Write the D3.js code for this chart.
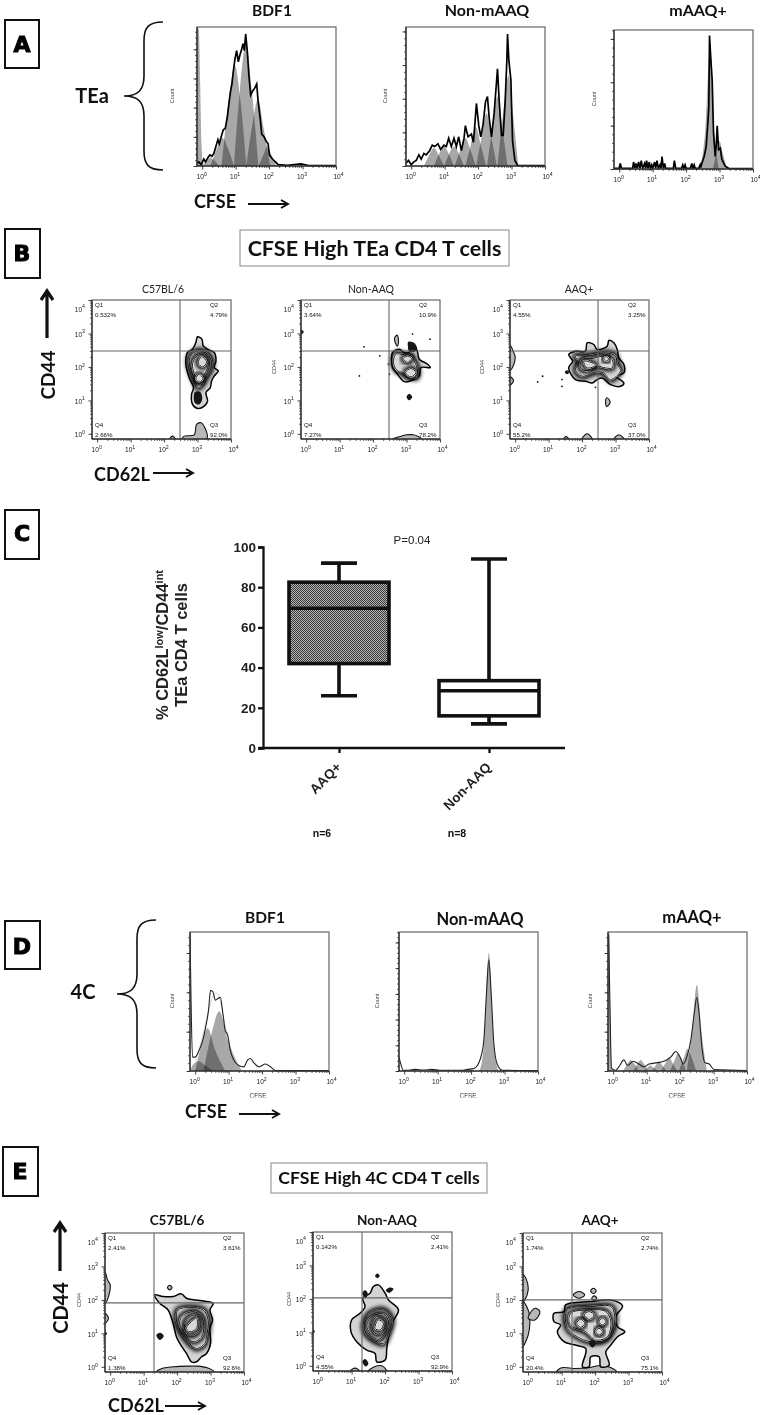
<!DOCTYPE html>
<html>
<head>
<meta charset="utf-8">
<script src="https://cdnjs.cloudflare.com/ajax/libs/d3/7.8.5/d3.min.js"></script>
<style>
  html, body { margin: 0; padding: 0; background: #fff; }
  svg { display: block; filter: blur(0.5px); }
  .cal { font-family: Lato, "Open Sans", sans-serif; }
  .ari { font-family: "Liberation Sans", Arial, sans-serif; }
  .peak { fill: #a8a8a8; mix-blend-mode: multiply; }
</style>
</head>
<body>
<svg id="fig" width="760" height="1415"></svg>
<script>
// all flow values are in log10 decades, counts are % of the plot height

// panel A histograms
const aBdf1Line = [[-.155,2],[-.10,3],[-.03,1],[.05,5],[.10,3],[.17,6],[.23,8],[.29,7],[.35,9],[.41,14],[.47,19],[.51,16],[.57,21],[.63,26],[.69,27],[.75,35],[.81,47],[.85,54],[.89,59],[.93,68],[.98,77],[1.03,83],[1.08,75],[1.13,80],[1.17,83],[1.22,88],[1.26,83],[1.30,95],[1.35,82],[1.40,64],[1.45,51],[1.51,54],[1.57,56],[1.63,59],[1.67,47],[1.73,35],[1.78,23],[1.85,21],[1.91,18],[1.97,16],[2.01,8],[2.10,5],[2.19,3],[2.27,1],[2.55,.5],[2.95,1.5],[3.15,.5],[4,.3]];
const aBdf1Peaks = [
  [[-.155,100],[-.1,98],[-.06,60],[-.02,15],[.03,0]],
  [[0,0],[.13,4],[.25,6],[.37,4],[.5,0]],
  [[.25,0],[.43,12],[.62,20],[.78,12],[.95,0]],
  [[.58,0],[.78,45],[.98,72],[1.14,48],[1.32,0]],
  [[.95,0],[1.13,55],[1.31,88],[1.48,55],[1.68,0]],
  [[1.32,0],[1.5,30],[1.67,48],[1.83,28],[2.03,0]],
  [[1.68,0],[1.83,8],[1.95,14],[2.07,8],[2.22,0]]
];
const aNonLine = [[-.155,2],[-.08,4],[0,1],[.08,3],[.15,4],[.23,8],[.3,5],[.38,9],[.45,8],[.55,11],[.63,15],[.7,14],[.8,16],[.88,12],[.98,15],[1.05,14],[1.12,20],[1.2,14],[1.28,20],[1.35,14],[1.42,21],[1.5,11],[1.58,20],[1.62,29],[1.7,21],[1.8,23],[1.86,17],[1.9,29],[1.95,45],[2.02,29],[2.08,21],[2.15,30],[2.22,46],[2.28,50],[2.33,35],[2.4,21],[2.48,38],[2.54,57],[2.58,70],[2.63,47],[2.7,22],[2.75,22],[2.81,47],[2.86,76],[2.88,95],[2.92,76],[2.98,62],[3.03,18],[3.1,4],[3.18,.5],[4,.3]];
const aNonPeaks = [
  [[.38,0],[.52,7],[.68,13],[.84,7],[.98,0]],
  [[.68,0],[.82,8],[.98,14],[1.14,8],[1.28,0]],
  [[.98,0],[1.12,8],[1.28,14],[1.44,8],[1.58,0]],
  [[1.3,0],[1.46,11],[1.62,20],[1.78,11],[1.93,0]],
  [[1.62,0],[1.78,15],[1.93,28],[2.08,15],[2.24,0]],
  [[1.94,0],[2.1,20],[2.25,38],[2.4,20],[2.56,0]],
  [[2.27,0],[2.42,26],[2.58,50],[2.73,26],[2.88,0]],
  [[2.58,0],[2.74,36],[2.91,65],[3.05,36],[3.2,0]]
];
const aMaaqLine = [[-.155,.5],[0,.5],[.03,4],[.07,.5],[.4,.5],[.43,5],[.47,.5],[.5,4],[.54,.5],[.58,5],[.62,.5],[.66,6],[.7,.5],[.76,4],[.79,.5],[.82,6],[.86,.5],[.9,5],[.93,.5],[.97,3],[1,.5],[1.06,5],[1.09,.5],[1.13,6],[1.17,.5],[1.22,3],[1.25,.5],[1.28,9],[1.32,.5],[1.36,4],[1.39,.5],[1.62,.5],[1.65,6],[1.69,.5],[1.86,.5],[1.9,3],[1.93,.5],[1.97,3],[2,.5],[2.13,.5],[2.17,4],[2.2,.5],[2.24,3],[2.27,.5],[2.38,.5],[2.42,3],[2.44,1],[2.47,4],[2.54,9],[2.6,16],[2.65,33],[2.68,45],[2.7,96],[2.74,79],[2.78,64],[2.82,26],[2.87,9],[2.9,16],[2.93,31],[2.97,14],[3.02,15],[3.07,7],[3.17,2],[3.27,.5],[4,.3]];
const aMaaqPeaks = [
  [[2.42,0],[2.58,30],[2.71,85],[2.84,28],[2.98,0]],
  [[2.8,0],[2.9,11],[3,20],[3.1,11],[3.22,0]]
];

// panel D histograms
const dBdf1Line = [[-.155,99],[-.13,60],[-.08,10],[0,10],[.1,14],[.2,20],[.3,30],[.4,44],[.46,58],[.53,57],[.6,51],[.67,52],[.75,53],[.83,41],[.9,29],[.97,26],[1.05,15],[1.15,8],[1.3,4],[1.45,3],[1.57,8],[1.65,9],[1.75,6],[1.9,3],[2.1,5],[2.25,3],[2.4,.3],[4,.3]];
const dBdf1Peaks = [
  [[-.155,0],[-.05,5],[.1,7],[.3,4],[.55,0]],
  [[0,0],[.2,20],[.37,31],[.6,15],[.9,0]],
  [[.25,0],[.5,28],[.72,43],[.98,22],[1.4,0]]
];
const dBdf1Model = [[0,5],[.2,22],[.4,45],[.58,58],[.72,55],[.85,38],[1.05,15],[1.3,0]];
const dNonLine = [[-.155,10],[-.1,5],[-.03,.5],[.13,.5],[.33,1.2],[.58,.7],[.83,1.2],[1.03,.5],[1.7,.5],[1.9,1.2],[2.07,1.7],[2.19,4],[2.28,9],[2.38,22],[2.46,56],[2.53,80],[2.6,56],[2.68,20],[2.78,5],[2.93,.5],[4,.3]];
const dNonPeaks = [
  [[.1,0],[.2,.8],[.33,1.5],[.45,.8],[.6,0]],
  [[.7,0],[.8,.8],[.95,1.5],[1.05,.8],[1.15,0]],
  [[1.75,0],[1.85,.8],[1.95,1.5],[2.05,.8],[2.15,0]],
  [[2.25,0],[2.38,18],[2.53,85],[2.68,18],[2.82,0]]
];
const dMaaqLine = [[-.135,98],[-.1,51],[-.05,2],[.07,.5],[.17,3],[.32,8],[.43,4],[.6,7],[.77,5],[.92,3],[1.07,5],[1.32,6],[1.52,7],[1.72,10],[1.87,14],[2,10],[2.1,5],[2.2,10],[2.32,22],[2.42,41],[2.5,53],[2.57,41],[2.64,20],[2.74,6],[2.87,5],[3.02,1],[4,.3]];
const dMaaqPeaks = [
  [[-.155,100],[-.12,100],[-.09,50],[-.05,5],[-.02,0]],
  [[.3,0],[.42,5],[.52,8],[.64,5],[.76,0]],
  [[.6,0],[.72,5],[.82,8],[.92,5],[1.04,0]],
  [[.9,0],[1.02,2.5],[1.1,4],[1.2,2.5],[1.32,0]],
  [[1.15,0],[1.27,4],[1.37,7],[1.47,4],[1.6,0]],
  [[1.43,0],[1.57,6],[1.67,10],[1.77,6],[1.92,0]],
  [[1.7,0],[1.84,8],[1.94,13],[2.05,8],[2.18,0]],
  [[1.96,0],[2.12,10],[2.22,16],[2.34,10],[2.48,0]],
  [[2.2,0],[2.36,28],[2.5,62],[2.64,28],[2.8,0]]
];

// panel B contours, outer ring first
const bC57Rings = [
  [[3.00,2.90],[3.13,2.83],[3.17,2.63],[3.35,2.50],[3.50,2.43],[3.55,2.18],[3.50,1.98],[3.62,1.88],[3.50,1.73],[3.42,1.58],[3.38,1.38],[3.25,1.23],[3.30,.98],[3.20,.83],[3.00,.76],[2.85,.88],[2.82,1.18],[2.88,1.38],[2.75,1.68],[2.65,2.08],[2.70,2.43],[2.85,2.53],[2.95,2.73]],
  [[2.85,2.40],[3.05,2.48],[3.30,2.38],[3.42,2.15],[3.38,1.90],[3.25,1.70],[3.15,1.50],[3.02,1.38],[2.92,1.60],[2.80,1.90],[2.75,2.20]],
  [[2.95,2.30],[3.10,2.38],[3.28,2.25],[3.32,2.05],[3.22,1.80],[3.12,1.62],[3.00,1.55],[2.90,1.80],[2.85,2.08]],
  [[3.12,2.30],[3.27,2.15],[3.15,2.00],[3.02,2.12]],
  [[3.05,1.78],[3.16,1.65],[3.05,1.55],[2.95,1.65]]
];
const bC57Edge = [
  [[2.55,-.15],[2.6,-.07],[2.9,-.03],[2.97,.28],[3.1,.33],[3.22,.18],[3.28,-.13]],
  [[2.17,-.155],[2.25,-.07],[2.33,-.155]]
];
const bC57Blobs = [[[2.92,1.25],[3.08,1.25],[3.14,1.05],[3.05,.88],[2.92,.92]]];
const bC57Dots = [];

const bNonRings = [
  [[2.58,2.43],[2.78,2.53],[2.93,2.43],[3.08,2.43],[3.08,2.63],[3.23,2.66],[3.33,2.43],[3.38,2.23],[3.63,2.08],[3.71,1.98],[3.43,1.98],[3.38,1.73],[3.18,1.60],[2.93,1.56],[2.73,1.78],[2.58,1.98],[2.55,2.23]],
  [[2.68,2.38],[2.93,2.36],[3.13,2.33],[3.23,2.18],[3.33,1.88],[3.28,1.68],[3.08,1.73],[2.88,1.83],[2.71,1.90],[2.61,2.13]],
  [[2.90,2.25],[3.03,2.32],[3.15,2.25],[3.03,2.14]],
  [[2.97,1.83],[3.13,1.95],[3.28,1.83],[3.13,1.70]]
];
const bNonEdge = [
  [[2.58,-.155],[2.8,-.08],[3,-.03],[3.2,-.03],[3.35,-.08],[3.45,-.155]],
  [[2.64,2.85],[2.72,2.95],[2.76,2.75],[2.72,2.62]]
];
const bNonBlobs = [
  [[3.05,2.75],[3.25,2.7],[3.3,2.5],[3.1,2.45]],
  [[3.0,1.1],[3.08,1.2],[3.17,1.1],[3.08,1.0]],
  [[-.155,3.12],[-.07,3.05],[-.155,2.97]]
];
const bNonDots = [[1.73,2.6],[2.20,2.33],[1.59,1.73],[2.46,2.08],[2.49,1.78],[3.18,2.98],[3.70,2.83]];

const bAaqRings = [
  [[1.60,2.37],[1.80,2.47],[2.10,2.47],[2.15,2.72],[2.35,2.67],[2.45,2.52],[2.75,2.62],[2.80,2.79],[2.95,2.72],[3.05,2.52],[3.10,2.27],[3.25,2.07],[3.25,1.82],[3.02,1.72],[3.25,1.52],[3.15,1.42],[2.85,1.47],[2.60,1.67],[2.45,1.62],[2.30,1.52],[2.10,1.57],[1.80,1.62],[1.60,1.97],[1.72,2.17]],
  [[1.80,2.32],[2.10,2.32],[2.40,2.37],[2.70,2.42],[3.00,2.32],[3.05,2.07],[3.15,1.89],[2.85,1.62],[2.65,1.82],[2.40,1.85],[2.00,1.72],[1.80,1.92],[1.90,2.12]],
  [[2.00,2.22],[2.30,2.25],[2.65,2.32],[2.90,2.22],[2.90,1.97],[2.70,1.97],[2.45,2.02],[2.15,1.89],[1.95,1.97]],
  [[2.05,2.17],[2.30,2.12],[2.40,2.05],[2.15,1.97]],
  [[2.65,2.24],[2.72,2.31],[2.79,2.24],[2.72,2.17]]
];
const bAaqEdge = [
  [[-.155,2.65],[-.05,2.45],[0,2.3],[-.05,2.05],[-.155,1.9]],
  [[-.155,1.7],[-.05,1.6],[-.155,1.45]],
  [[1.45,-.155],[1.52,-.08],[1.6,-.155]],
  [[2,-.155],[2.15,0],[2.3,-.155]],
  [[2.95,-.155],[3.1,-.03],[3.25,-.155]],
  [[2.74,1.08],[2.84,.95],[2.74,.82],[2.70,.95]]
];
const bAaqBlobs = [[[1.48,1.84],[1.55,1.9],[1.62,1.84],[1.55,1.78]]];
const bAaqDots = [[.82,1.72],[.67,1.55],[1.40,1.62],[1.40,1.42],[2.40,1.39]];

// panel E contours
const eC57Rings = [
  [[1.33,2.15],[1.58,2.10],[1.88,2.10],[2.13,2.18],[2.28,2.05],[2.68,1.98],[3.08,1.90],[2.98,1.70],[3.06,1.40],[2.98,1.15],[3.00,.70],[2.88,.40],[2.73,.30],[2.58,.15],[2.43,.15],[2.28,.40],[2.08,.70],[1.98,.90],[1.88,1.30],[1.73,1.70],[1.48,1.90]],
  [[2.03,1.70],[2.38,1.77],[2.78,1.70],[2.93,1.40],[2.88,.90],[2.83,.70],[2.58,.55],[2.28,.80],[2.08,1.10],[1.98,1.40]],
  [[2.13,1.50],[2.48,1.65],[2.73,1.50],[2.80,1.20],[2.73,.90],[2.48,.75],[2.23,1.00],[2.08,1.25]],
  [[2.28,1.40],[2.53,1.55],[2.71,1.30],[2.58,1.00],[2.38,.95],[2.23,1.10]],
  [[2.43,1.35],[2.58,1.45],[2.58,1.15],[2.38,1.05],[2.28,1.15]]
];
const eC57Edge = [
  [[1.38,-.155],[1.55,-.05],[1.9,0],[2.3,.02],[2.6,.02],[2.9,-.03],[3.1,-.155]],
  [[-.155,2.85],[-.08,2.6],[0,2.45],[-.05,2.1],[-.155,1.9]],
  [[-.155,1.6],[-.05,1.45],[-.155,1.3]],
  [[1.71,2.37],[1.78,2.44],[1.85,2.37],[1.78,2.3]],
  [[2.46,.25],[2.51,.31],[2.56,.25],[2.51,.19]]
];
const eC57Blobs = [
  [[1.38,.95],[1.5,1.02],[1.6,.92],[1.48,.8]],
  [[-.155,1.05],[-.09,1],[-.155,.93]]
];
const eC57Dots = [];

const eNonRings = [
  [[1.65,2.37],[1.80,2.42],[2.00,2.17],[2.10,1.97],[2.40,1.67],[2.20,1.27],[2.10,.87],[2.05,.52],[2.00,.17],[1.75,.12],[1.70,.37],[1.45,.47],[1.15,.72],[.98,1.02],[1.00,1.37],[1.25,1.57],[1.40,1.77],[1.33,2.02],[1.55,2.17]],
  [[1.55,1.57],[1.95,1.67],[2.20,1.37],[2.10,.97],[1.95,.67],[1.65,.77],[1.40,1.02],[1.40,1.32]],
  [[1.60,1.47],[1.95,1.55],[2.10,1.32],[2.00,.97],[1.80,.79],[1.55,.97],[1.45,1.22]],
  [[1.75,1.47],[2.00,1.32],[1.90,.97],[1.70,.97],[1.60,1.22]],
  [[1.80,1.37],[1.95,1.27],[1.85,1.07],[1.70,1.12]]
];
const eNonEdge = [
  [[1.5,-.155],[1.7,-.02],[1.9,0],[2.05,-.155]],
  [[.95,-.155],[1.1,-.07],[1.25,-.155]]
];
const eNonBlobs = [
  [[1.7,2.69],[1.77,2.76],[1.84,2.69],[1.77,2.62]],
  [[2.02,2.25],[2.13,2.34],[2.25,2.3],[2.13,2.18]],
  [[1.32,2.17],[1.4,2.26],[1.48,2.17],[1.42,2.02]],
  [[1.32,.12],[1.4,.2],[1.5,.07],[1.42,-.02]],
  [[-.155,1.1],[-.1,1.03],[-.155,.96]]
];
const eNonDots = [];

const eAaqRings = [
  [[1.12,1.85],[1.87,1.95],[2.47,2.00],[2.82,1.82],[2.62,1.50],[2.67,1.20],[2.89,1.05],[2.67,.90],[2.47,.65],[2.32,.45],[2.42,.05],[2.17,0],[2.12,.30],[1.87,.30],[1.82,0],[1.62,0],[1.72,.40],[1.72,.55],[1.42,.65],[1.07,.75],[.87,1.05],[.97,1.25],[.77,1.35],[.77,1.60],[1.07,1.65]],
  [[1.17,1.70],[1.87,1.80],[2.47,1.80],[2.59,1.50],[2.52,1.10],[2.27,.80],[1.87,.75],[1.47,.90],[1.17,1.15]],
  [[1.27,1.60],[1.77,1.70],[2.32,1.65],[2.47,1.35],[2.37,.90],[2.02,.80],[1.72,1.05],[1.32,1.20],[1.22,1.35]],
  [[1.67,1.55],[1.82,1.65],[1.97,1.55],[1.82,1.42]],
  [[2.12,1.35],[2.22,1.45],[2.32,1.35],[2.22,1.25]],
  [[2.02,1.05],[2.12,1.15],[2.22,1.05],[2.12,.95]],
  [[1.45,1.30],[1.57,1.42],[1.69,1.30],[1.57,1.18]]
];
const eAaqEdge = [
  [[.85,-.155],[1,-.03],[1.4,-.05],[1.8,-.03],[2.1,.03],[2.4,0],[2.65,-.155]],
  [[-.155,2.75],[-.05,2.6],[0,2.3],[-.1,2],[-.155,1.95]],
  [[-.155,1.95],[0,1.7],[.05,1.3],[0,.95],[-.1,.7],[-.155,.6]],
  [[.0,1.45],[.2,1.75],[.35,1.65],[.2,1.4]],
  [[1.35,2.15],[1.52,2.25],[1.69,2.15],[1.52,2.05]],
  [[1.87,2.27],[1.95,2.35],[2.03,2.27],[1.95,2.19]],
  [[1.9,2.05],[1.97,2.12],[2.05,2.05],[1.97,1.98]]
];
const eAaqBlobs = [[[1.82,.7],[1.92,.82],[2.02,.7],[1.92,.58]]];
const eAaqDots = [];

// panel C box plot
const boxCategories = ['AAQ+', 'Non-AAQ'];
const boxMin = [26, 12];
const boxQ1 = [42, 16];
const boxMedian = [69.5, 28.5];
const boxQ3 = [82.5, 33.5];
const boxMax = [92, 94];
const boxCounts = ['n=6', 'n=8'];
const boxTicks = [0, 20, 40, 60, 80, 100];

// quadrant percentages, Q1 to Q4
const bC57Pct = ['0.532%', '4.79%', '92.0%', '2.66%'];
const bNonPct = ['3.64%', '10.9%', '78.2%', '7.27%'];
const bAaqPct = ['4.55%', '3.25%', '37.0%', '55.2%'];
const eC57Pct = ['2.41%', '3.61%', '92.6%', '1.38%'];
const eNonPct = ['0.142%', '2.41%', '92.9%', '4.55%'];
const eAaqPct = ['1.74%', '2.74%', '75.1%', '20.4%'];

const majorDecades = [0, 1, 2, 3, 4];
const minorDecades = d3.range(0, 4).flatMap(k => d3.range(2, 10).map(m => k + Math.log10(m)));

const SIZE = 139;
const svg = d3.select('#fig');
const defs = svg.append('defs');
const x = d3.scaleLinear().domain([-0.155, 4]).range([0, SIZE]);
const y = d3.scaleLinear().domain([-0.155, 4]).range([SIZE, 0]);
const countY = d3.scaleLinear().domain([0, 100]).range([SIZE, 0]);

const addBlur = (id, dev) => defs.append('filter').attr('id', id)
  .attr('x', '-40%').attr('y', '-40%').attr('width', '180%').attr('height', '180%')
  .append('feGaussianBlur').attr('stdDeviation', dev);
addBlur('smear', 1.9);
addBlur('soft', 0.7);

const hatch = defs.append('pattern').attr('id', 'hatch')
  .attr('width', 2).attr('height', 2).attr('patternUnits', 'userSpaceOnUse');
hatch.append('rect').attr('width', 2).attr('height', 2).attr('fill', '#b4b4b4');
hatch.append('rect').attr('width', 1).attr('height', 1).attr('fill', '#3a3a3a');
hatch.append('rect').attr('x', 1).attr('y', 1).attr('width', 1).attr('height', 1).attr('fill', '#3a3a3a');

let clipCount = 0;
const addClip = (left, top, w, h) => {
  const id = `clip${clipCount++}`;
  defs.append('clipPath').attr('id', id).append('rect')
    .attr('x', left).attr('y', top).attr('width', w).attr('height', h);
  return `url(#${id})`;
};

const label = (txt, px, py, size, opts = {}) => svg.append('text')
  .attr('class', opts.cls || 'cal')
  .attr('x', px).attr('y', py)
  .attr('font-size', size)
  .attr('font-weight', opts.weight || 'bold')
  .attr('text-anchor', opts.anchor || 'middle')
  .attr('fill', opts.fill || '#111')
  .attr('transform', opts.rotate ? `rotate(${opts.rotate},${px},${py})` : null)
  .text(txt);

const letterBox = (txt, x0, y0, x1, y1, cx, cy) => {
  svg.append('rect').attr('x', x0).attr('y', y0).attr('width', x1 - x0).attr('height', y1 - y0)
    .attr('fill', 'none').attr('stroke', '#111').attr('stroke-width', 2);
  svg.append('text').attr('x', cx).attr('y', cy)
    .attr('text-anchor', 'middle')
    .attr('font-family', '"DejaVu Sans"').attr('font-weight', 'bold').attr('font-size', 22)
    .attr('stroke', '#000').attr('stroke-width', 1).attr('fill', '#000')
    .text(txt);
};

const titleBox = (txt, x0, y0, x1, y1, size) => {
  svg.append('rect').attr('x', x0).attr('y', y0).attr('width', x1 - x0).attr('height', y1 - y0)
    .attr('fill', 'none').attr('stroke', '#888').attr('stroke-width', 1);
  label(txt, (x0 + x1) / 2, (y0 + y1) / 2 + size * 0.35, size);
};

const brace = (xEnd, xMid, xTip, yTop, yTip, yBot) => {
  const r = xEnd - xMid;
  const t = xMid - xTip;
  svg.append('path')
    .attr('d', `M${xEnd},${yTop} C${xMid + 4},${yTop} ${xMid},${yTop + 6} ${xMid},${yTop + r}
      L${xMid},${yTip - t} C${xMid},${yTip - 6} ${xMid - 6},${yTip} ${xTip},${yTip}
      C${xMid - 6},${yTip} ${xMid},${yTip + 6} ${xMid},${yTip + t}
      L${xMid},${yBot - r} C${xMid},${yBot - 6} ${xMid + 4},${yBot} ${xEnd},${yBot}`)
    .attr('fill', 'none').attr('stroke', '#111').attr('stroke-width', 1.6);
};

const arrowRight = (x0, x1, py) => {
  svg.append('path').attr('d', `M${x0},${py} H${x1} M${x1 - 7},${py - 4} L${x1},${py} L${x1 - 7},${py + 4}`)
    .attr('fill', 'none').attr('stroke', '#111').attr('stroke-width', 1.9);
};

const arrowUp = (px, y0, y1) => {
  svg.append('path').attr('d', `M${px},${y0} V${y1} M${px - 6},${y1 + 9} L${px},${y1} L${px + 6},${y1 + 9}`)
    .attr('fill', 'none').attr('stroke', '#111').attr('stroke-width', 3.2);
};

// shared axes and frame of a flow plot
const drawFrame = (g, countStep) => {
  const bottomMinor = d3.axisBottom(x).tickValues(minorDecades).tickSize(1.8).tickFormat('');
  const bottomMajor = d3.axisBottom(x).tickValues(majorDecades).tickSize(3.5).tickFormat('');
  g.append('g').attr('transform', `translate(0,${SIZE})`).call(bottomMinor);
  const xAxis = g.append('g').attr('transform', `translate(0,${SIZE})`).call(bottomMajor);
  xAxis.selectAll('.tick').each(function (k) {
    const t = d3.select(this).select('text')
      .attr('class', 'ari').attr('fill', '#222').attr('y', 13).attr('dy', 0)
      .attr('x', k === 4 ? 2 : -1)
      .attr('text-anchor', 'middle').attr('font-size', 6.6);
    t.append('tspan').text('10');
    t.append('tspan').attr('dy', -3.5).attr('font-size', 5.2).text(k);
  });

  const leftAxis = countStep ? countY : y;
  const leftMajor = countStep ? d3.range(0, 100, countStep) : majorDecades;
  const leftMinor = countStep
    ? d3.range(0, 100, countStep / 5)
    : minorDecades;
  g.append('g').call(d3.axisLeft(leftAxis).tickValues(leftMinor).tickSize(1.8).tickFormat(''));
  const yAxis = g.append('g').call(d3.axisLeft(leftAxis).tickValues(leftMajor).tickSize(3.5).tickFormat(''));
  if (!countStep) {
    yAxis.selectAll('.tick').each(function (k) {
      const t = d3.select(this).select('text')
        .attr('class', 'ari').attr('fill', '#222')
        .attr('x', -7).attr('dy', 0).attr('y', k === 4 ? 11 : 3)
        .attr('text-anchor', 'end').attr('font-size', 6.6);
      t.append('tspan').text('10');
      t.append('tspan').attr('dy', -3.5).attr('font-size', 5.2).text(k);
    });
  }
  g.selectAll('.domain').remove();
  g.selectAll('.tick line').attr('stroke', '#111').attr('stroke-width', 0.8);
  g.append('rect').attr('width', SIZE).attr('height', SIZE)
    .attr('fill', 'none').attr('stroke', '#666').attr('stroke-width', 1.2);
  g.append('line').attr('y1', SIZE).attr('x2', SIZE).attr('y2', SIZE).attr('stroke', '#111').attr('stroke-width', 1);
  g.append('line').attr('y2', SIZE).attr('stroke', '#111').attr('stroke-width', 1);
};

const peakArea = d3.area().x(d => x(d[0])).y0(SIZE).y1(d => countY(d[1])).curve(d3.curveMonotoneX);

const histogram = (cfg) => {
  const g = svg.append('g').attr('transform', `translate(${cfg.left},${cfg.top})`)
    .style('isolation', 'isolate');
  const plot = g.append('g').attr('clip-path', addClip(0, -1, SIZE, SIZE + 2));
  plot.selectAll('path.peak').data(cfg.peaks).join('path')
    .attr('class', 'peak').attr('d', peakArea);
  if (cfg.model) {
    plot.append('path')
      .attr('d', d3.line().x(d => x(d[0])).y(d => countY(d[1])).curve(d3.curveBasis)(cfg.model))
      .attr('fill', 'none').attr('stroke', '#bbb').attr('stroke-width', 0.6);
  }
  plot.append('path')
    .attr('d', d3.line().x(d => x(d[0])).y(d => countY(d[1])).curve(cfg.smooth ? d3.curveMonotoneX : d3.curveLinear)(cfg.line))
    .attr('fill', 'none').attr('stroke', cfg.smooth ? '#222' : '#000')
    .attr('stroke-width', cfg.smooth ? 1.1 : 1.7);
  drawFrame(g, cfg.countStep);
  label('Count', cfg.countX, cfg.countY, 5.5, { cls: 'ari', weight: 'normal', fill: '#444', rotate: -90 });
};

const ringLine = d3.line().x(d => x(d[0])).y(d => y(d[1])).curve(d3.curveCatmullRomClosed.alpha(0.5));

const contourPlot = (cfg) => {
  const g = svg.append('g').attr('transform', `translate(${cfg.left},${cfg.top})`);
  const plot = g.append('g').attr('clip-path', addClip(0, 0, SIZE, SIZE));

  cfg.edge.forEach((ring) => {
    plot.append('path').attr('d', ringLine(ring)).attr('fill', '#b8b8b8')
      .attr('stroke', '#111').attr('stroke-width', 1.1);
  });

  cfg.rings.forEach((ring, i) => {
    const d = ringLine(ring);
    if (i === 0) {
      plot.append('path').attr('d', d).attr('fill', '#d4d4d4');
    } else {
      plot.append('path').attr('d', d).attr('fill', 'none')
        .attr('stroke', '#000').attr('stroke-width', 6).attr('filter', 'url(#smear)');
      plot.append('path').attr('d', d).attr('fill', '#d8d8d8');
    }
    plot.append('path').attr('d', d).attr('fill', 'none').attr('stroke', '#fff').attr('stroke-width', i === 0 ? 0 : 1.6);
    plot.append('path').attr('d', d).attr('fill', 'none').attr('stroke', '#000').attr('stroke-width', i === 0 ? 1.5 : 0.9);
  });

  plot.selectAll('path.blob').data(cfg.blobs).join('path')
    .attr('class', 'blob').attr('d', ringLine).attr('fill', '#141414').attr('filter', 'url(#soft)');
  plot.selectAll('circle').data(cfg.dots).join('circle')
    .attr('cx', d => x(d[0])).attr('cy', d => y(d[1])).attr('r', 0.9).attr('fill', '#111');

  g.append('line').attr('x1', x(cfg.gate[0])).attr('x2', x(cfg.gate[0])).attr('y2', SIZE).attr('stroke', '#666').attr('stroke-width', 1.1);
  g.append('line').attr('y1', y(cfg.gate[1])).attr('y2', y(cfg.gate[1])).attr('x2', SIZE).attr('stroke', '#666').attr('stroke-width', 1.1);
  drawFrame(g);

  const quad = [[3, 7], [SIZE - 21, 7], [SIZE - 21, SIZE - 12], [3, SIZE - 12]];
  quad.forEach((q, i) => {
    const t = g.append('g').attr('transform', `translate(${q[0]},${q[1]})`)
      .attr('class', 'ari').attr('font-size', 6.2).attr('fill', '#111');
    t.append('text').text(`Q${i + 1}`);
    t.append('text').attr('y', 9.5).text(cfg.pct[i]);
  });
  if (cfg.cd44X) {
    label('CD44', cfg.cd44X, cfg.top + 67, 5.5, { cls: 'ari', weight: 'normal', fill: '#444', rotate: -90 });
  }
};

// panel A
letterBox('A', 5, 20, 39, 68, 22, 52);
label('TEa', 92, 103, 20);
brace(163, 144, 124, 22, 96, 170);
label('BDF1', 272, 16, 15.5);
label('Non-mAAQ', 487, 16, 16);
label('mAAQ+', 698, 16, 16);
label('CFSE', 215, 208, 18);
arrowRight(248, 288, 204);
histogram({ left: 197, top: 27, line: aBdf1Line, peaks: aBdf1Peaks, countStep: 21, countX: 174, countY: 96 });
histogram({ left: 406, top: 27, line: aNonLine, peaks: aNonPeaks, countStep: 24.2, countX: 387, countY: 96 });
histogram({ left: 614, top: 30, line: aMaaqLine, peaks: aMaaqPeaks, countStep: 31.2, countX: 596, countY: 99 });

// panel B
letterBox('B', 5, 229, 40, 278, 22, 261);
titleBox('CFSE High TEa CD4 T cells', 240, 230, 509, 266, 21.5);
label('C57BL/6', 163, 293, 10.5, { weight: 'normal', fill: '#222' });
label('Non-AAQ', 371, 293, 10.5, { weight: 'normal', fill: '#222' });
label('AAQ+', 579, 293, 10.5, { weight: 'normal', fill: '#222' });
label('CD44', 55, 375, 19, { rotate: -90 });
arrowUp(47, 338, 291);
label('CD62L', 122, 481, 18);
arrowRight(153, 193, 473);
contourPlot({ left: 92, top: 300, rings: bC57Rings, edge: bC57Edge, blobs: bC57Blobs, dots: bC57Dots, gate: [2.476, 2.476], pct: bC57Pct });
contourPlot({ left: 301, top: 300, rings: bNonRings, edge: bNonEdge, blobs: bNonBlobs, dots: bNonDots, gate: [2.476, 2.476], pct: bNonPct, cd44X: 276 });
contourPlot({ left: 510, top: 300, rings: bAaqRings, edge: bAaqEdge, blobs: bAaqBlobs, dots: bAaqDots, gate: [2.476, 2.476], pct: bAaqPct, cd44X: 484 });

// panel C
letterBox('C', 5, 510, 39, 559, 22, 541);
const boxY = d3.scaleLinear().domain([0, 100]).range([748, 547]);
const boxX = d3.scalePoint().domain(boxCategories).range([339, 489]);
const boxG = svg.append('g').attr('class', 'box');

boxG.append('g').attr('transform', 'translate(263,0)')
  .call(d3.axisLeft(boxY).tickValues(boxTicks).tickSize(5).tickPadding(2))
  .call(a => a.selectAll('text').attr('class', 'ari').attr('font-size', 13.5).attr('font-weight', 'bold').attr('fill', '#222'))
  .call(a => a.selectAll('line,.domain').attr('stroke', '#111').attr('stroke-width', 2.3));
boxG.append('g').attr('transform', 'translate(0,748)')
  .call(d3.axisBottom(boxX).tickSize(5).tickFormat(''))
  .call(a => a.select('.domain').remove())
  .call(a => a.selectAll('line').attr('stroke', '#111').attr('stroke-width', 2.3));
boxG.append('line').attr('x1', 259).attr('x2', 565).attr('y1', boxY(0)).attr('y2', boxY(0))
  .attr('stroke', '#111').attr('stroke-width', 2.3);

boxCategories.forEach((c, i) => {
  const cx = boxX(c);
  const draw = (x1, x2, v1, v2, w) => boxG.append('line')
    .attr('x1', x1).attr('x2', x2).attr('y1', boxY(v1)).attr('y2', boxY(v2))
    .attr('stroke', '#111').attr('stroke-width', w);
  draw(cx, cx, boxMin[i], boxQ1[i], 3.6);
  draw(cx, cx, boxQ3[i], boxMax[i], 3.6);
  draw(cx - 18, cx + 18, boxMin[i], boxMin[i], 3.6);
  draw(cx - 18, cx + 18, boxMax[i], boxMax[i], 3.6);
  boxG.append('rect').attr('x', cx - 50).attr('width', 100)
    .attr('y', boxY(boxQ3[i])).attr('height', boxY(boxQ1[i]) - boxY(boxQ3[i]))
    .attr('fill', i === 0 ? 'url(#hatch)' : '#fff')
    .attr('stroke', '#111').attr('stroke-width', 3.6);
  draw(cx - 50, cx + 50, boxMedian[i], boxMedian[i], 3.6);
  label(c, cx + 3, 768, 13.5, { cls: 'ari', anchor: 'end', fill: '#222', rotate: -45 });
});
label(boxCounts[0], 322, 837, 10.5, { cls: 'ari' });
label(boxCounts[1], 457, 837, 10.5, { cls: 'ari' });
label('P=0.04', 412, 544, 11.5, { cls: 'ari', weight: 'normal', fill: '#222' });

const yTitle = label('', 168, 645, 16.5, { cls: 'ari', fill: '#222', rotate: -90 });
yTitle.append('tspan').text('% CD62L');
yTitle.append('tspan').attr('dy', -5.5).attr('font-size', 11).text('low');
yTitle.append('tspan').attr('dy', 5.5).text('/CD44');
yTitle.append('tspan').attr('dy', -5.5).attr('font-size', 11).text('int');
label('TEa CD4 T cells', 187, 645, 16.5, { cls: 'ari', fill: '#222', rotate: -90 });

// panel D
letterBox('D', 5, 921, 40, 969, 22, 954);
label('4C', 83, 999, 20);
brace(156, 137, 117, 920, 994, 1068);
label('BDF1', 265, 923, 15.5);
label('Non-mAAQ', 480, 925, 16.5);
label('mAAQ+', 692, 923, 16.5);
label('CFSE', 206, 1118, 18);
arrowRight(239, 279, 1114);
histogram({ left: 190, top: 932, line: dBdf1Line, peaks: dBdf1Peaks, model: dBdf1Model, smooth: true, countStep: 28.3, countX: 174, countY: 1001 });
histogram({ left: 399, top: 932, line: dNonLine, peaks: dNonPeaks, smooth: true, countStep: 18.5, countX: 379, countY: 1001 });
histogram({ left: 608, top: 932, line: dMaaqLine, peaks: dMaaqPeaks, smooth: true, countStep: 28.3, countX: 592, countY: 1001 });
// the small CFSE labels are cut through in the original
const cutLabels = svg.append('g').attr('clip-path', addClip(0, 1090, 760, 7.5));
[258, 468, 677].forEach(cx => {
  cutLabels.append('text').attr('class', 'ari').attr('x', cx).attr('y', 1098)
    .attr('text-anchor', 'middle').attr('font-size', 6.3).attr('fill', '#333').text('CFSE');
});

// panel E
letterBox('E', 3, 1147, 38, 1196, 20, 1179);
titleBox('CFSE High 4C CD4 T cells', 271, 1163, 487, 1193, 17.7);
label('C57BL/6', 177, 1225, 13.5);
label('Non-AAQ', 387, 1225, 13.5);
label('AAQ+', 600, 1225, 13.5);
label('CD44', 68, 1308, 20, { rotate: -90 });
arrowUp(60, 1271, 1223);
label('CD62L', 136, 1412, 18);
arrowRight(165, 205, 1406);
contourPlot({ left: 105, top: 1233, rings: eC57Rings, edge: eC57Edge, blobs: eC57Blobs, dots: eC57Dots, gate: [1.31, 1.91], pct: eC57Pct, cd44X: 81 });
contourPlot({ left: 313, top: 1232, rings: eNonRings, edge: eNonEdge, blobs: eNonBlobs, dots: eNonDots, gate: [1.31, 2.03], pct: eNonPct, cd44X: 291 });
contourPlot({ left: 523, top: 1233, rings: eAaqRings, edge: eAaqEdge, blobs: eAaqBlobs, dots: eAaqDots, gate: [1.31, 2.0], pct: eAaqPct, cd44X: 500 });
</script>
</body>
</html>
